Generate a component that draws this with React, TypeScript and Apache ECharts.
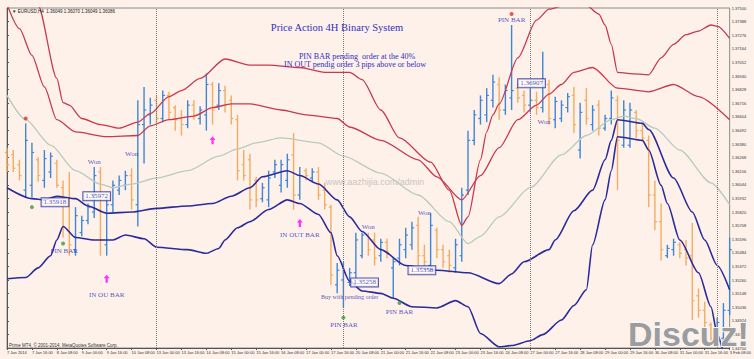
import React, { useEffect, useRef } from "react";
import * as echarts from "echarts";

// price axis base (bottom of plot) and step between right-axis labels
const BASE = 1.347;
const TOP = 1.375;
const STEP = 0.00112;

const tickLabels = ["7 Jan 2014","7 Jan 16:00","8 Jan 08:00","9 Jan 00:00","9 Jan 16:00","10 Jan 08:00","13 Jan 00:00","13 Jan 16:00","14 Jan 08:00","15 Jan 00:00","15 Jan 16:00","16 Jan 08:00","17 Jan 00:00","17 Jan 16:00","20 Jan 08:00","21 Jan 00:00","21 Jan 16:00","22 Jan 08:00","23 Jan 00:00","23 Jan 16:00","24 Jan 08:00","27 Jan 00:00","27 Jan 16:00","28 Jan 08:00","29 Jan 00:00","29 Jan 16:00","30 Jan 08:00","31 Jan 00:00","31 Jan 16:00","3 Feb 08:00"];

const separators = [24, 54, 84, 114];

const open = [
  1.3631,1.3629,1.3621,1.3600,1.3604,1.3625,1.3608,1.3615,1.3622,1.3602,
  1.3592,1.3551,1.3565,1.3575,1.3582,1.3615,1.3555,1.3588,1.3600,1.3604,
  1.3612,1.3588,1.3654,1.3662,1.3674,1.3659,1.3678,1.3668,1.3659,1.3654,
  1.3670,1.3659,1.3662,1.3687,1.3670,1.3682,1.3674,1.3658,1.3621,1.3625,
  1.3608,1.3593,1.3592,1.3615,1.3604,1.3608,1.3629,1.3596,1.3616,1.3610,
  1.3615,1.3600,1.3586,1.3522,1.3526,1.3524,1.3532,1.3546,1.3563,1.3559,
  1.3546,1.3557,1.3536,1.3544,1.3551,1.3555,1.3571,1.3546,1.3538,1.3567,
  1.3551,1.3546,1.3536,1.3546,1.3600,1.3641,1.3659,1.3662,1.3674,1.3687,
  1.3666,1.3676,1.3684,1.3678,1.3670,1.3674,1.3668,1.3687,1.3658,1.3659,
  1.3668,1.3678,1.3633,1.3674,1.3654,1.3670,1.3651,1.3659,1.3674,1.3637,
  1.3637,1.3664,1.3649,1.3641,1.3596,1.3574,1.3546,1.3551,1.3555,1.3551,
  1.3546,1.3513,1.3501,1.3489,1.3483,1.3478,1.3501
];
const high = [
  1.3635,1.3633,1.3625,1.3655,1.3639,1.3627,1.3633,1.3631,1.3625,1.3608,
  1.3615,1.3586,1.3579,1.3589,1.3619,1.3619,1.3594,1.3608,1.3612,1.3616,
  1.3618,1.3674,1.3685,1.3676,1.3678,1.3682,1.3681,1.3670,1.3666,1.3674,
  1.3674,1.3669,1.3696,1.3689,1.3688,1.3686,1.3678,1.3662,1.3633,1.3630,
  1.3611,1.3606,1.3616,1.3625,1.3625,1.3630,1.3647,1.3619,1.3618,1.3618,
  1.3619,1.3606,1.3588,1.3540,1.3541,1.3536,1.3565,1.3565,1.3565,1.3565,
  1.3560,1.3560,1.3544,1.3560,1.3569,1.3574,1.3578,1.3555,1.3581,1.3569,
  1.3555,1.3551,1.3560,1.3602,1.3649,1.3666,1.3678,1.3684,1.3695,1.3693,
  1.3687,1.3736,1.3688,1.3682,1.3684,1.3681,1.3714,1.3691,1.3677,1.3674,
  1.3680,1.3685,1.3672,1.3684,1.3670,1.3674,1.3662,1.3682,1.3678,1.3674,
  1.3672,1.3666,1.3654,1.3645,1.3608,1.3589,1.3555,1.3560,1.3557,1.3559,
  1.3573,1.3519,1.3508,1.3491,1.3495,1.3507,1.3561
];
const low = [
  1.3615,1.3615,1.3608,1.3594,1.3594,1.3607,1.3602,1.3610,1.3602,1.3561,
  1.3546,1.3546,1.3562,1.3572,1.3577,1.3546,1.3546,1.3582,1.3596,1.3600,
  1.3584,1.3570,1.3622,1.3654,1.3654,1.3656,1.3658,1.3649,1.3645,1.3651,
  1.3658,1.3654,1.3649,1.3654,1.3666,1.3664,1.3654,1.3608,1.3608,1.3584,
  1.3586,1.3590,1.3586,1.3610,1.3598,1.3602,1.3584,1.3592,1.3608,1.3607,
  1.3592,1.3584,1.3522,1.3515,1.3503,1.3521,1.3527,1.3544,1.3546,1.3538,
  1.3541,1.3544,1.3511,1.3538,1.3544,1.3551,1.3538,1.3536,1.3532,1.3544,
  1.3536,1.3532,1.3532,1.3541,1.3596,1.3637,1.3654,1.3656,1.3668,1.3658,
  1.3662,1.3666,1.3672,1.3664,1.3664,1.3662,1.3664,1.3654,1.3651,1.3656,
  1.3664,1.3647,1.3626,1.3654,1.3649,1.3645,1.3649,1.3654,1.3600,1.3635,
  1.3635,1.3643,1.3640,1.3586,1.3567,1.3542,1.3544,1.3546,1.3544,1.3538,
  1.3493,1.3495,1.3486,1.3474,1.3476,1.3475,1.3497
];
const close = [
  1.3621,1.3618,1.3612,1.3641,1.3631,1.3612,1.3626,1.3628,1.3604,1.3592,
  1.3555,1.3579,1.3575,1.3586,1.3612,1.3559,1.3588,1.3604,1.3608,1.3612,
  1.3592,1.3654,1.3666,1.3670,1.3659,1.3678,1.3664,1.3658,1.3654,1.3670,
  1.3662,1.3666,1.3687,1.3666,1.3682,1.3670,1.3659,1.3616,1.3612,1.3592,
  1.3592,1.3602,1.3610,1.3621,1.3621,1.3625,1.3596,1.3612,1.3612,1.3615,
  1.3596,1.3588,1.3530,1.3534,1.3532,1.3532,1.3559,1.3563,1.3551,1.3544,
  1.3557,1.3549,1.3541,1.3555,1.3563,1.3569,1.3546,1.3541,1.3571,1.3551,
  1.3541,1.3538,1.3555,1.3596,1.3641,1.3662,1.3674,1.3678,1.3689,1.3666,
  1.3682,1.3682,1.3676,1.3670,1.3674,1.3668,1.3691,1.3659,1.3673,1.3670,
  1.3677,1.3654,1.3664,1.3659,1.3666,1.3651,1.3659,1.3676,1.3641,1.3666,
  1.3666,1.3649,1.3643,1.3596,1.3574,1.3551,1.3552,1.3557,1.3548,1.3544,
  1.3509,1.3501,1.3491,1.3478,1.3491,1.3501,1.3551
];

// band lines: [bar index, price]
const upperOuter: [number, number][] = [
  [0,1.3855],[5,1.3752],[8,1.3692],[9,1.3672],[10,1.3670],[12,1.3659],[15,1.3654],[18,1.3651],[21,1.3656],[23,1.3663],
  [26,1.3677],[28,1.3682],[31,1.3692],[35,1.3708],[39,1.3703],[42,1.3703],[47,1.3701],[51,1.3697],[55,1.3697],[57,1.3691],
  [60,1.3666],[63,1.3643],[68,1.3623],[71,1.3600],[73,1.3571],[74,1.3578],[76,1.3625],[77,1.3648],[78,1.3662],[79,1.3671],
  [82,1.3709],[85,1.3740],[87,1.3749],[90,1.3753],[93,1.3752],[95,1.3745],[96,1.3736],[97,1.3720],[98,1.3697],[100,1.3696],
  [103,1.3695],[105,1.3709],[107,1.3720],[109,1.3728],[111,1.3731],[113,1.3736],[114,1.3735],[116,1.3725]
];
const upperInner: [number, number][] = [
  [0,1.3753],[2,1.3733],[4,1.3711],[6,1.3685],[8,1.3658],[11,1.3648],[16,1.3644],[21,1.3645],[23,1.3653],[26,1.3658],
  [30,1.3661],[33,1.3668],[36,1.3671],[39,1.3671],[44,1.3666],[48,1.3662],[53,1.3659],[55,1.3652],[60,1.3641],[66,1.3625],
  [69,1.3611],[73,1.3592],[76,1.3612],[79,1.3635],[82,1.3658],[85,1.3670],[87,1.3679],[89,1.3687],[91,1.3697],[94,1.3701],
  [98,1.3684],[103,1.3681],[107,1.3687],[111,1.3677],[116,1.3658]
];
const middle: [number, number][] = [
  [0,1.3678],[3,1.3658],[7,1.3637],[11,1.3616],[15,1.3605],[17,1.3602],[20,1.3605],[24,1.3610],[29,1.3616],[34,1.3628],
  [37,1.3634],[40,1.3639],[44,1.3643],[50,1.3639],[54,1.3628],[60,1.3614],[66,1.3596],[71,1.3574],[74,1.3556],[76,1.3562],
  [79,1.3578],[84,1.3602],[89,1.3629],[93,1.3645],[97,1.3658],[99,1.3661],[101,1.3659],[104,1.3651],[108,1.3633],[113,1.3606],
  [116,1.3588]
];
const lowerInner: [number, number][] = [
  [0,1.3602],[4,1.3593],[6,1.3592],[8,1.3595],[11,1.3593],[13,1.3587],[16,1.3581],[20,1.3582],[24,1.3585],[29,1.3587],
  [33,1.3589],[36,1.3595],[39,1.3602],[41,1.3611],[45,1.3616],[47,1.3612],[50,1.3605],[53,1.3592],[55,1.3578],[57,1.3566],
  [60,1.3551],[64,1.3538],[69,1.3534],[74,1.3532],[79,1.3523],[81,1.3531],[83,1.3541],[87,1.3551],[88,1.3559],[91,1.3583],
  [94,1.3600],[96,1.3625],[97,1.3641],[98,1.3658],[102,1.3655],[103,1.3650],[107,1.3610],[110,1.3582],[112,1.3559],[114,1.3538],
  [116,1.3518]
];
const lowerOuter: [number, number][] = [
  [0,1.3527],[3,1.3528],[5,1.3536],[7,1.3546],[8,1.3559],[9,1.3570],[11,1.3561],[14,1.3559],[17,1.3559],[19,1.3563],
  [22,1.3560],[24,1.3553],[29,1.3551],[32,1.3548],[34,1.3552],[35,1.3559],[37,1.3569],[39,1.3574],[42,1.3584],[45,1.3592],
  [47,1.3589],[50,1.3580],[52,1.3565],[53,1.3546],[55,1.3525],[57,1.3517],[60,1.3515],[62,1.3511],[65,1.3504],[69,1.3503],
  [72,1.3509],[74,1.3504],[76,1.3482],[79,1.3471],[81,1.3472],[84,1.3476],[86,1.3481],[89,1.3493],[91,1.3505],[93,1.3518],
  [94,1.3555],[96,1.3592],[97,1.3616],[98,1.3644],[102,1.3641],[103,1.3633],[105,1.3604],[106,1.3589],[108,1.3559],[111,1.3532],
  [113,1.3504],[114,1.3482],[115,1.3468],[116,1.3458]
];

// annotations: [bar index, price]
const wonLabels: [number, number][] = [[14,1.3623],[20,1.3630],[58,1.3570],[67,1.3581],[86.2,1.3656]];
const pinBarLabels: [number, number][] = [[9.2,1.3550],[54.1,1.3489],[63,1.3500],[81,1.3740]];
const inOutLabels: [number, number, string][] = [[16,1.3514,"IN OU BAR"],[47,1.3563,"IN OUT BAR"]];
const arrowMarks: [number, number][] = [[16,1.3527],[47,1.3573],[33,1.3641]];
const greenDots: [number, number][] = [[9,1.3556],[4,1.3586],[54,1.3495],[63,1.3507]];
const redDots: [number, number][] = [[3,1.3659],[81,1.3745]];
const priceBoxes: [number, number, string][] = [[7.7,1.3590,"1.35918"],[14.4,1.3595,"1.35972"],[57.4,1.3524,"1.35258"],[66.6,1.3534,"1.35358"],[84.2,1.3688,"1.36907"]];
const buyNote: [number, number, string][] = [[55,1.3512,"Buy with pending order"]];

const toY = (p: number) => Math.round((p - BASE) * 100000);

const BULL = "#3f86d6";
const BEAR = "#f2ac64";
const TEXT_BLUE = "#2a2ab4";
const SERIF = '"Liberation Serif", "DejaVu Serif", serif';
const SANS = '"Liberation Sans", "DejaVu Sans", sans-serif';

function buildOption(): any {
  const bars = open.map((o, i) => [i, toY(o), toY(high[i]), toY(low[i]), toY(close[i])]);
  const line = (pts: [number, number][], color: string, width: number, name: string) => ({
    type: "line",
    name,
    data: pts.map(([x, p]) => [x, toY(p)]),
    showSymbol: false,
    smooth: 0.25,
    smoothMonotone: "x",
    lineStyle: { color, width },
    silent: true,
    z: 3,
  });
  const textScatter = (pts: any[], fmt: (d: any) => string, label: any, z = 6) => ({
    type: "scatter",
    symbolSize: 0,
    silent: true,
    z,
    data: pts.map((d) => ({ value: [d[0], toY(d[1])], label: { ...label, formatter: fmt(d) } })),
    label: { show: true, position: "inside" },
  });
  return {
    animation: false,
    backgroundColor: "#fdf1ea",
    grid: { left: 7, right: 22, top: 8, bottom: 11, show: true, borderColor: "#8c8c8c", borderWidth: 1 },
    xAxis: {
      type: "value",
      min: 0,
      max: 116,
      interval: 4,
      axisLine: { show: true, lineStyle: { color: "#555", width: 1 } },
      axisTick: { show: true, length: 2, lineStyle: { color: "#555" } },
      splitLine: { show: false },
      axisLabel: {
        formatter: (v: number) => tickLabels[Math.round(v / 4)] || "",
        fontSize: 4,
        color: "#333",
        fontFamily: SANS,
        align: "left",
        margin: 2,
        showMinLabel: true,
        showMaxLabel: true,
      },
    },
    yAxis: {
      type: "value",
      position: "right",
      min: 0,
      max: toY(TOP),
      interval: Math.round(STEP * 100000),
      axisLine: { show: true, lineStyle: { color: "#555", width: 1 } },
      axisTick: { show: true, length: 2, lineStyle: { color: "#555" } },
      splitLine: { show: false },
      axisLabel: {
        formatter: (v: number) => (BASE + v / 100000).toFixed(5),
        fontSize: 4,
        color: "#333",
        fontFamily: SANS,
        margin: 2,
      },
    },
    series: [
      {
        type: "custom",
        name: "EURUSD",
        data: bars,
        encode: { x: 0, y: [1, 2, 3, 4] },
        silent: true,
        z: 2,
        renderItem: (_params: any, api: any) => {
          const x = api.value(0);
          const o = api.coord([x, api.value(1)]);
          const h = api.coord([x, api.value(2)]);
          const l = api.coord([x, api.value(3)]);
          const c = api.coord([x, api.value(4)]);
          const color = api.value(4) >= api.value(1) ? BULL : BEAR;
          return {
            type: "group",
            children: [
              { type: "line", shape: { x1: h[0], y1: h[1], x2: l[0], y2: l[1] }, style: { stroke: color, lineWidth: 1.4 } },
              { type: "line", shape: { x1: o[0] - 2.2, y1: o[1], x2: o[0], y2: o[1] }, style: { stroke: color, lineWidth: 1.2 } },
              { type: "line", shape: { x1: c[0], y1: c[1], x2: c[0] + 2.2, y2: c[1] }, style: { stroke: color, lineWidth: 1.2 } },
            ],
          };
        },
        markLine: {
          silent: true,
          symbol: ["none", "none"],
          label: { show: false },
          lineStyle: { type: "dotted", color: "#7a7a7a", width: 1 },
          data: separators.map((s) => ({ xAxis: s })),
        },
      },
      line(middle, "#b9cbbd", 1.3, "middle"),
      line(upperOuter, "#c9384e", 1.3, "upperOuter"),
      line(upperInner, "#c9384e", 1.3, "upperInner"),
      line(lowerInner, "#2b2b9b", 1.6, "lowerInner"),
      line(lowerOuter, "#2b2b9b", 1.6, "lowerOuter"),
      textScatter(wonLabels, () => "Won", { fontSize: 7, color: TEXT_BLUE, fontFamily: SERIF }),
      textScatter(pinBarLabels, () => "PIN BAR", { fontSize: 7, color: TEXT_BLUE, fontFamily: SERIF }),
      textScatter(inOutLabels, (d) => d[2], { fontSize: 7, color: TEXT_BLUE, fontFamily: SERIF }),
      textScatter(buyNote, (d) => d[2], { fontSize: 6, color: TEXT_BLUE, fontFamily: SERIF }),
      textScatter(priceBoxes, (d) => d[2], {
        fontSize: 7,
        color: "#22229a",
        fontFamily: SERIF,
        backgroundColor: "#ffffff",
        borderColor: "#2b2b9b",
        borderWidth: 1,
        padding: [1, 2, 0, 2],
      }, 7),
      {
        type: "scatter",
        silent: true,
        z: 6,
        symbol: "path://M4,0 L8,4 L5.5,4 L5.5,9 L2.5,9 L2.5,4 L0,4 Z",
        symbolSize: [6, 8],
        itemStyle: { color: "#ff00ff" },
        data: arrowMarks.map(([x, p]) => [x, toY(p)]),
      },
      {
        type: "scatter",
        silent: true,
        z: 6,
        symbol: "circle",
        symbolSize: 4,
        itemStyle: { color: "#3a9a3a" },
        data: greenDots.map(([x, p]) => [x, toY(p)]),
      },
      {
        type: "scatter",
        silent: true,
        z: 6,
        symbol: "circle",
        symbolSize: 4,
        itemStyle: { color: "#e03030" },
        data: redDots.map(([x, p]) => [x, toY(p)]),
      },
    ],
    graphic: [
      {
        type: "text",
        x: 337,
        y: 27,
        z: 10,
        style: { text: "Price Action 4H Binary System", fill: "#3030c0", fontSize: 10.5, fontFamily: SERIF, align: "center", verticalAlign: "middle" },
      },
      {
        type: "text",
        x: 357,
        y: 56,
        z: 10,
        style: { text: "PIN BAR pending  order at the 40%", fill: "#3030c0", fontSize: 8, fontFamily: SERIF, align: "center", verticalAlign: "middle" },
      },
      {
        type: "text",
        x: 355,
        y: 64,
        z: 10,
        style: { text: "IN OUT pendig order 3 pips above or below", fill: "#3030c0", fontSize: 8, fontFamily: SERIF, align: "center", verticalAlign: "middle" },
      },
      {
        type: "text",
        x: 12,
        y: 11,
        z: 10,
        style: { text: "▼ EURUSD,H4  1.36049 1.36070 1.36049 1.36086", fill: "#222", fontSize: 4.5, fontFamily: SANS, verticalAlign: "middle" },
      },
      {
        type: "text",
        x: 9,
        y: 345,
        z: 10,
        style: { text: "Prime MT4, © 2001-2014, MetaQuotes Software Corp.", fill: "#333", fontSize: 4.5, fontFamily: SANS, verticalAlign: "middle" },
      },
      {
        type: "text",
        x: 375,
        y: 182,
        z: 1,
        style: { text: "www.aazhijia.com/admin", fill: "#cbc5c0", fontSize: 9, fontFamily: SANS, align: "center", verticalAlign: "middle" },
      },
      {
        type: "text",
        x: 628,
        y: 334,
        z: 20,
        style: {
          text: "Discuz!",
          fill: "#9c9c9c",
          stroke: "#f6f6f6",
          lineWidth: 2,
          fontSize: 34,
          fontWeight: "bold",
          fontFamily: SANS,
          verticalAlign: "middle",
          shadowColor: "rgba(40,40,40,0.9)",
          shadowBlur: 2,
        },
      },
    ],
  };
}

export default function App() {
  const ref = useRef<HTMLDivElement>(null);
  useEffect(() => {
    document.body.style.margin = "0";
    if (!ref.current) return;
    const chart = echarts.init(ref.current, null, { renderer: "svg" });
    chart.setOption(buildOption());
    return () => chart.dispose();
  }, []);
  return <div ref={ref} style={{ width: 754, height: 359 }} />;
}
